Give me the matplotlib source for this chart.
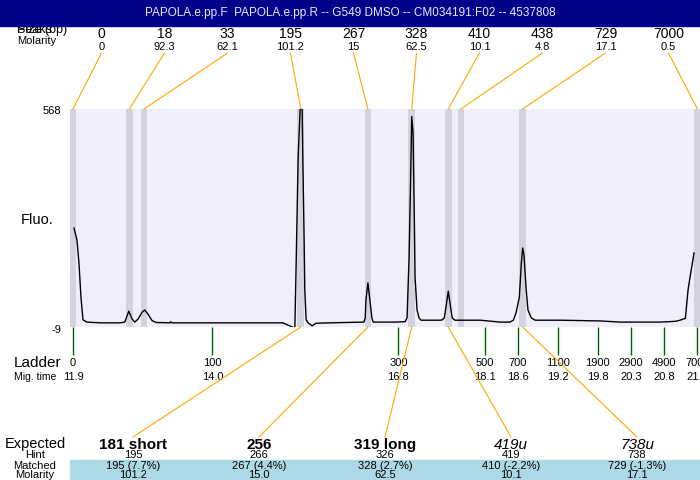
import matplotlib.pyplot as plt
import matplotlib.transforms as mtransforms
from matplotlib.patches import Rectangle, ConnectionPatch

plt.rcParams['font.family'] = ['Liberation Sans', 'DejaVu Sans']

title = "PAPOLA.e.pp.F  PAPOLA.e.pp.R -- G549 DMSO -- CM034191:F02 -- 4537808"

# detected peaks: size (bp), molarity, migration time
peak_size = [0, 18, 33, 195, 267, 328, 410, 438, 729, 7000]
peak_molarity = ["0", "92.3", "62.1", "101.2", "15", "62.5", "10.1", "4.8", "17.1", "0.5"]
peak_time = [11.90, 12.75, 12.97, 15.33, 16.34, 17.00, 17.55, 17.74, 18.67, 21.30]

# ladder
ladder_size = [0, 100, 300, 500, 700, 1100, 1900, 2900, 4900, 7000]
ladder_time = [11.9, 14.0, 16.8, 18.1, 18.6, 19.2, 19.8, 20.3, 20.8, 21.3]

# expected products and their matched peaks
expected_label = ["181 short", "256", "319 long", "419u", "738u"]
expected_hint = ["195", "266", "326", "419", "738"]
matched_label = ["195 (7.7%)", "267 (4.4%)", "328 (2.7%)", "410 (-2.2%)", "729 (-1.3%)"]
matched_molarity = ["101.2", "15.0", "62.5", "10.1", "17.1"]
matched_peak = [195, 267, 328, 410, 729]
expected_style = ["bold", "bold", "bold", "italic", "italic"]

# electropherogram trace (migration time, fluorescence)
trace_t = [11.915, 11.96, 11.99, 12.02, 12.05, 12.11, 12.31, 12.61, 12.68, 12.74,
           12.79, 12.83, 12.88, 12.94, 12.98, 13.03, 13.09, 13.15, 13.36, 13.37,
           13.39, 13.81, 14.26, 14.57, 15.06, 15.24, 15.26, 15.29, 15.32, 15.35,
           15.36, 15.38, 15.39, 15.41, 15.44, 15.50, 15.56, 15.77, 16.28, 16.30,
           16.31, 16.34, 16.37, 16.40, 16.42, 16.75, 16.90, 16.93, 16.94, 16.96,
           16.98, 17.00, 17.02, 17.04, 17.05, 17.08, 17.11, 17.14, 17.43, 17.46,
           17.49, 17.52, 17.55, 17.58, 17.61, 17.65, 18.03, 18.33, 18.48, 18.53,
           18.57, 18.62, 18.65, 18.67, 18.69, 18.72, 18.75, 18.80, 18.86, 19.23,
           19.84, 20.14, 20.74, 20.97, 21.04, 21.12, 21.16, 21.19, 21.24, 21.25]
trace_f = [253, 221, 160, 70, 10, 4, 2, 2, 4, 33,
           12, 4, 12, 30, 36, 25, 8, 3, 2, 5,
           2, 2, 2, 2, 2, -12, 160, 441, 568, 568,
           441, 221, 89, 10, 2, -6, 1, 2, 4, 15,
           62, 108, 62, 15, 4, 4, 5, 15, 70, 176,
           354, 548, 504, 266, 123, 36, 15, 9, 9, 10,
           15, 49, 86, 49, 15, 9, 9, 4, 4, 9,
           28, 70, 160, 200, 181, 97, 36, 15, 9, 9,
           7, 4, 4, 6, 9, 14, 89, 123, 176, 187]

y_min, y_max = -9, 568

W, H = 700, 480
def fy(py):
    return 1 - py / H

fig = plt.figure(figsize=(7, 4.8), dpi=100)
ax = fig.add_axes([70 / W, fy(327), 630 / W, 218 / H])
ax.set_facecolor('#EFEFFC')
ax.set_xlim(11.855, 21.34)
ax.set_ylim(y_min, y_max)
for s in ax.spines.values():
    s.set_visible(False)
ax.set_xticks([])
ax.set_yticks([])

for t in peak_time:
    ax.axvspan(t - 0.05, t + 0.05, color='#D3D3E0', lw=0, zorder=1)
ax.plot(trace_t, trace_f, color='black', lw=1.0, zorder=3)

# title bar (the header labels sit partly under it)
fig.text(17 / W, fy(30), "Size (bp)", fontsize=9, va='center', zorder=1)
fig.text(17 / W, fy(30), "Peaks", fontsize=9, va='center', zorder=1)
fig.add_artist(Rectangle((0, fy(26)), 1, 26 / H, transform=fig.transFigure,
                         color='#00008B', zorder=5))
fig.text(0.5, fy(13), title, color='#E8E8FF', fontsize=8.5, ha='center',
         va='center', zorder=6)
fig.text(17 / W, fy(41), "Molarity", fontsize=8, va='center')

# peak labels on top
for i, (size, mol, t) in enumerate(zip(peak_size, peak_molarity, peak_time)):
    fx = 0.1 + 0.09 * (i + 0.5)
    fig.text(fx, fy(34), str(size), fontsize=10, ha='center', va='center')
    fig.text(fx, fy(47), mol, fontsize=8, ha='center', va='center')
    con = ConnectionPatch(xyA=(fx, fy(53)), coordsA='figure fraction',
                          xyB=(t, y_max), coordsB=ax.transData,
                          color='orange', lw=0.8, zorder=2)
    fig.add_artist(con)

# y labels
fig.text(61 / W, fy(111), str(y_max), fontsize=8, ha='right', va='center')
fig.text(61 / W, fy(330), str(y_min), fontsize=8, ha='right', va='center')
fig.text(21 / W, fy(220), "Fluo.", fontsize=10.5, va='center')

# ladder
trans = mtransforms.blended_transform_factory(ax.transData, fig.transFigure)
ax.vlines(ladder_time, fy(355), fy(327), transform=trans, colors='#006400',
          lw=1, clip_on=False)
for size, t in zip(ladder_size, ladder_time):
    ax.text(t, fy(363), str(size), transform=trans, fontsize=8,
            ha='center', va='center', clip_on=False)
    ax.text(t, fy(377), f"{t:.1f}", transform=trans, fontsize=8,
            ha='center', va='center', clip_on=False)
fig.text(14 / W, fy(363), "Ladder", fontsize=11, va='center')
fig.text(14 / W, fy(377), "Mig. time", fontsize=7.5, va='center')

# expected / matched table
fig.add_artist(Rectangle((0.1, 0), 0.9, 20 / H, transform=fig.transFigure,
                         color='#ADD8E6', zorder=0))
for lab, py, fs in [("Expected", 444, 10.5), ("Hint", 455, 8),
                    ("Matched", 466, 8), ("Molarity", 475, 8)]:
    fig.text(35 / W, fy(py), lab, fontsize=fs, ha='center', va='center')

for i in range(len(expected_label)):
    fx = 0.1 + 0.18 * (i + 0.5)
    style = expected_style[i]
    fig.text(fx, fy(445), expected_label[i], fontsize=11, ha='center', va='center',
             fontweight='bold' if style == 'bold' else 'normal',
             fontstyle='italic' if style == 'italic' else 'normal')
    fig.text(fx, fy(455), expected_hint[i], fontsize=8, ha='center', va='center')
    fig.text(fx, fy(466), matched_label[i], fontsize=8, ha='center', va='center')
    fig.text(fx, fy(475), matched_molarity[i], fontsize=8, ha='center', va='center')
    t = peak_time[peak_size.index(matched_peak[i])]
    con = ConnectionPatch(xyA=(t, y_min), coordsA=ax.transData,
                          xyB=(fx, fy(437)), coordsB='figure fraction',
                          color='orange', lw=0.8, zorder=2)
    fig.add_artist(con)

fig.savefig('out.png', dpi=100)
